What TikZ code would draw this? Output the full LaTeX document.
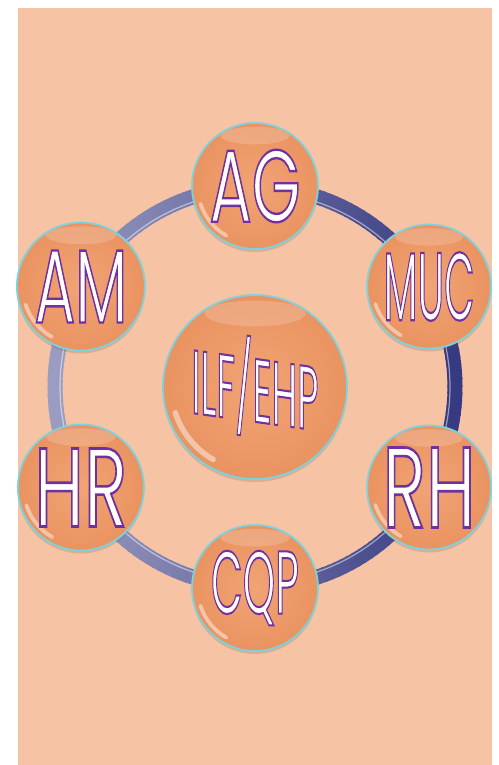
\documentclass[tikz,border=0pt]{standalone}
\usepackage{fontspec}
\newfontfamily\lblfont{Poppins}
\usetikzlibrary{calc,shadows}
\definecolor{bgpeach}{HTML}{F6C3A5}
\definecolor{bubblein}{HTML}{F1A475}
\definecolor{bubbleout}{HTML}{EA9361}
\definecolor{bubbleedge}{HTML}{7DD3DC}
\definecolor{lblpurple}{HTML}{7030A0}
\definecolor{ringdark}{HTML}{363A80}
\definecolor{ringlight}{HTML}{9A9CC2}
\newcommand\bublbl[3]{\resizebox{#1}{#2}{\special{pdf:literal direct 0.439 0.188 0.627 RG 2 Tr 2.3 w}#3\special{pdf:literal direct 0 Tr}}}
\begin{document}
\begin{tikzpicture}[x=1pt,y=-1pt,
  bubble/.style={circle, minimum size=2*#1, inner sep=0pt, draw=bubbleedge, line width=1.8pt,
    inner color=bubblein, outer color=bubbleout,
    drop shadow={shadow xshift=0pt, shadow yshift=-3pt, opacity=0.2, fill=black!55!bgpeach},
    path picture={
      \fill[white, opacity=0.18] ([yshift=-0.2*#1]path picture bounding box.north) ellipse [x radius=0.55*#1, y radius=0.14*#1];
      \draw[white, opacity=0.45, line width=0.06*#1, line cap=round] ([shift={(198:0.91*#1)}]path picture bounding box.center) arc[start angle=198, end angle=240, radius=0.91*#1];
    },
    text=white, font=\lblfont\fontsize{100}{100}\selectfont},
  lbltext/.style={text=white, font=\lblfont\fontsize{100}{100}\selectfont, inner sep=0pt},
]
\useasboundingbox (0,0) rectangle (498,765);
\fill[bgpeach] (18,8) rectangle (492,765);
\coordinate (c) at (255,387);
% ring
\foreach \a in {0,2,...,358}{
  \pgfmathsetmacro\p{50+50*cos(\a)}
  \draw[line width=15pt, color=ringdark!\p!ringlight] ([shift={(\a:200pt)}]c) arc[start angle=\a, end angle=\a+2.6, radius=200pt];
}
\draw[white, opacity=0.5, line width=1.2pt] (c) circle[radius=195pt];
% bubbles
\node[bubble=92pt] (ilf) at (c) {};
\node[lbltext, transform shape, yslant=-0.14] (ilft) at (ilf) {\bublbl{127pt}{85pt}{ILF/EHP}};
\node[bubble=63pt] (ag)  at ([shift={(90:201pt)}]c)  {\bublbl{91pt}{72pt}{AG}};
\node[bubble=62pt] (muc) at ([shift={(30:201pt)}]c)  {\bublbl{91pt}{68pt}{MUC}};
\node[bubble=62pt] (rh)  at ([shift={(-30:201pt)}]c) {\bublbl{93pt}{80pt}{RH}};
\node[bubble=63pt] (cqp) at ([shift={(-90:201pt)}]c) {\bublbl{88pt}{63pt}{CQP}};
\node[bubble=63pt] (hr)  at ([shift={(210:201pt)}]c) {\bublbl{93pt}{78pt}{HR}};
\node[bubble=64pt] (am)  at ([shift={(150:201pt)}]c) {\bublbl{93pt}{72pt}{AM}};
\end{tikzpicture}
\end{document}
